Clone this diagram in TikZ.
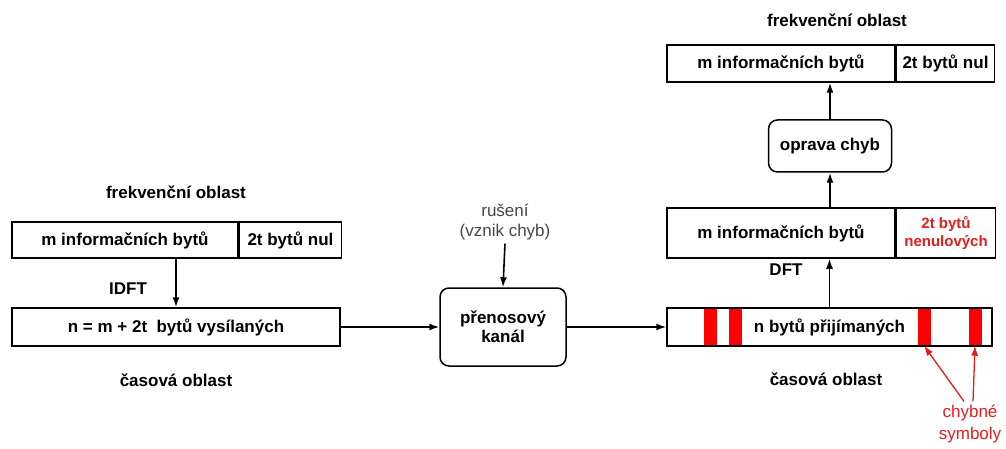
\documentclass[tikz,border=0pt]{standalone}
\usepackage{fontspec}
\setmainfont{Liberation Sans}
\usepackage{xcolor}
\usepackage{tikz}
\usetikzlibrary{positioning}
\usetikzlibrary{arrows.meta}
\definecolor{errred}{RGB}{228,28,28}
\definecolor{noisegray}{RGB}{70,70,70}

\begin{document}
\begin{tikzpicture}[x=1pt, y=1pt, >={Latex[length=10pt,width=7pt]},
  field/.style={rectangle, draw, line width=1.5pt, inner sep=0pt, align=center, font=\fontsize{17}{20}\selectfont\bfseries},
  block/.style={rectangle, draw, rounded corners=9pt, line width=1.5pt, inner sep=0pt, align=center, font=\fontsize{17}{19}\selectfont\bfseries},
  caption/.style={font=\fontsize{17}{20}\selectfont\bfseries},
  link/.style={line width=1.6pt, ->},
  errbar/.style={rectangle, fill=red, minimum width=13pt, minimum height=37pt, inner sep=0pt}]
\useasboundingbox (0,0) rectangle (1006,-449);
% vysilac
\node[caption] (freqL) at (176,-192) {frekvenční oblast};
\node[field, minimum width=226pt, minimum height=36pt] (infoL) at (125,-240) {m informačních bytů};
\node[field, minimum width=102pt, minimum height=36pt, right=0pt of infoL] (nulL) {2t bytů nul};
\node[field, minimum width=328pt, minimum height=38pt] (send) at (176,-327) {n = m + 2t\ \ bytů vysílaných};
\node[caption] (timeL) at (176,-380) {časová oblast};
\node[caption] (idft) at (128,-289) {IDFT};
\draw[link] (send.north |- infoL.south) -- (send.north);
% kanal
\node[block, minimum width=126pt, minimum height=78pt] (channel) at (503,-327) {přenosový\\kanál};
\node[align=center, text=noisegray, font=\fontsize{17}{20}\selectfont] (noise) at (505,-222) {rušení\\(vznik chyb)};
\draw[link] (noise.south) -- (channel.north);
\draw[link] (send.east) -- (channel.west);
% prijimac
\foreach \x [count=\i] in {710,735,924,975}
  \node[errbar] (bar\i) at (\x,-327) {};
\node[field, minimum width=325pt, minimum height=38pt] (recv) at (829.5,-327) {n bytů přijímaných};
\draw[link] (channel.east) -- (recv.west);
\node[caption] (timeR) at (826,-379) {časová oblast};
\node[field, minimum width=228pt, minimum height=50pt] (infoR) at (781,-233) {m informačních bytů};
\node[field, minimum width=99pt, minimum height=50pt, right=0pt of infoR, text=errred, font=\fontsize{15}{18.5}\selectfont\bfseries] (nonzero) {2t bytů\\nenulových};
\node[caption] (dft) at (786,-270) {DFT};
\draw[link] (recv.north) -- (recv.north |- infoR.south);
\node[block, minimum width=123pt, minimum height=52pt] (fix) at (830,-146) {oprava chyb};
\draw[link] (fix.south |- infoR.north) -- (fix.south);
\node[field, minimum width=228pt, minimum height=37pt] (infoT) at (781,-63.5) {m informačních bytů};
\node[field, minimum width=98pt, minimum height=37pt, right=0pt of infoT] (nulT) {2t bytů nul};
\draw[link] (fix.north) -- (fix.north |- infoT.south);
\node[caption] (freqR) at (837,-20) {frekvenční oblast};
% chybne symboly
\node[align=center, text=errred, font=\fontsize{17}{22}\selectfont] (errs) at (970,-424) {chybné\\symboly};
\draw[errred, line width=1.3pt, ->] ([xshift=-6pt]errs.north) -- (bar3.south);
\draw[errred, line width=1.3pt, ->] ([xshift=3pt]errs.north) -- (bar4.south);
\end{tikzpicture}
\end{document}
